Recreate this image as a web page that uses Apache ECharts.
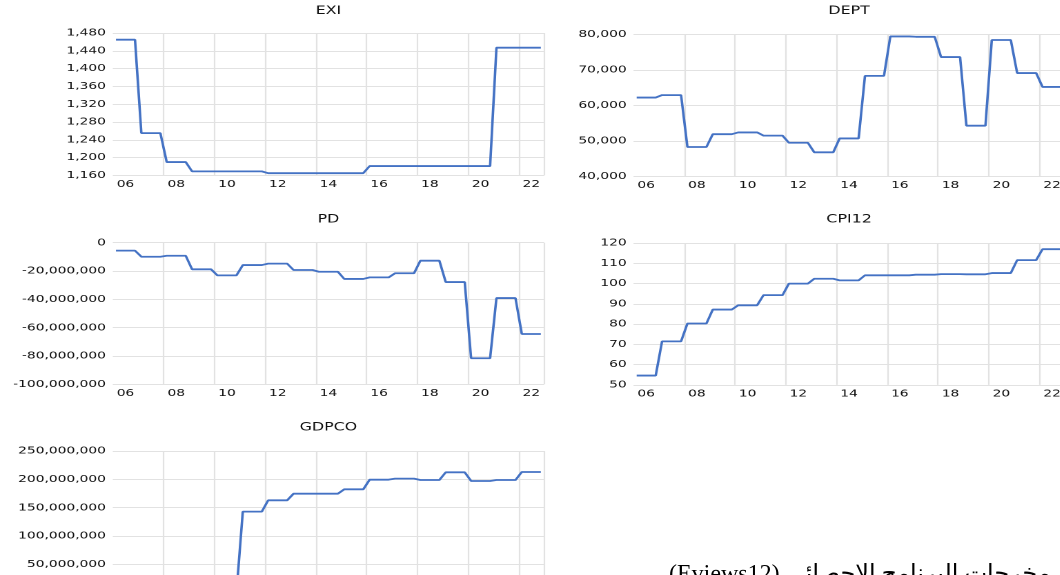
<!DOCTYPE html>
<html>
<head>
<meta charset="utf-8">
<script src="https://cdn.jsdelivr.net/npm/echarts@6/dist/echarts.min.js"></script>
<style>
html,body{margin:0;padding:0;width:1060px;height:575px;overflow:hidden;background:#ffffff;}
#chart{position:absolute;left:0;top:0;width:768.1px;height:575px;transform:scaleX(1.38);transform-origin:0 0;}
#note{position:absolute;left:0;top:0;width:1060px;height:575px;direction:rtl;pointer-events:none;}
</style>
</head>
<body>
<div id="chart"></div>
<div id="note"></div>
<script>
// ---- data (quarterly observations, 2006Q1 - 2022Q4) ----
const years = [2006,2007,2008,2009,2010,2011,2012,2013,2014,2015,2016,2017,2018,2019,2020,2021,2022];
const quarters = [];
years.forEach(function (y) { ['Q1','Q2','Q3','Q4'].forEach(function (q) { quarters.push(y + q); }); });

const titles = ['EXI', 'DEPT', 'PD', 'CPI12', 'GDPCO'];

const exi = [
  1465,1465,1465,1465, 1255,1255,1255,1255, 1190,1190,1190,1190, 1169,1169,1169,1169,
  1169,1169,1169,1169, 1169,1169,1169,1169, 1165,1165,1165,1165, 1165,1165,1165,1165,
  1165,1165,1165,1165, 1165,1165,1165,1165, 1181,1181,1181,1181, 1181,1181,1181,1181,
  1181,1181,1181,1181, 1181,1181,1181,1181, 1181,1181,1181,1181, 1447,1447,1447,1447,
  1447,1447,1447,1447
];
const dept = [
  62200,62200,62200,62200, 62900,62900,62900,62900, 48300,48300,48300,48300, 51900,51900,51900,51900,
  52400,52400,52400,52400, 51500,51500,51500,51500, 49500,49500,49500,49500, 46800,46800,46800,46800,
  50700,50700,50700,50700, 68300,68300,68300,68300, 79400,79400,79400,79400, 79300,79300,79300,79300,
  73600,73600,73600,73600, 54300,54300,54300,54300, 78400,78400,78400,78400, 69100,69100,69100,69100,
  65200,65200,65200,65200
];
const pd = [
  -5600000,-5600000,-5600000,-5600000, -9900000,-9900000,-9900000,-9900000,
  -9200000,-9200000,-9200000,-9200000, -18800000,-18800000,-18800000,-18800000,
  -23100000,-23100000,-23100000,-23100000, -15800000,-15800000,-15800000,-15800000,
  -14800000,-14800000,-14800000,-14800000, -19300000,-19300000,-19300000,-19300000,
  -20500000,-20500000,-20500000,-20500000, -25600000,-25600000,-25600000,-25600000,
  -24500000,-24500000,-24500000,-24500000, -21600000,-21600000,-21600000,-21600000,
  -12700000,-12700000,-12700000,-12700000, -27800000,-27800000,-27800000,-27800000,
  -81600000,-81600000,-81600000,-81600000, -39100000,-39100000,-39100000,-39100000,
  -64500000,-64500000,-64500000,-64500000
];
const cpi12 = [
  54.6,54.6,54.6,54.6, 71.5,71.5,71.5,71.5, 80.3,80.3,80.3,80.3, 87.2,87.2,87.2,87.2,
  89.3,89.3,89.3,89.3, 94.3,94.3,94.3,94.3, 100.0,100.0,100.0,100.0, 102.4,102.4,102.4,102.4,
  101.6,101.6,101.6,101.6, 104.1,104.1,104.1,104.1, 104.1,104.1,104.1,104.1, 104.4,104.4,104.4,104.4,
  104.7,104.7,104.7,104.7, 104.6,104.6,104.6,104.6, 105.2,105.2,105.2,105.2, 111.6,111.6,111.6,111.6,
  117.0,117.0,117.0,117.0
];
const gdpco = [
  0,0,0,0, 0,0,0,0, 0,0,0,0, 0,0,0,0,
  0,0,0,0, 143000000,143000000,143000000,143000000,
  163000000,163000000,163000000,163000000, 174700000,174700000,174700000,174700000,
  174700000,174700000,174700000,174700000, 182400000,182400000,182400000,182400000,
  199400000,199400000,199400000,199400000, 201200000,201200000,201200000,201200000,
  198800000,198800000,198800000,198800000, 212400000,212400000,212400000,212400000,
  197100000,197100000,197100000,197100000, 198800000,198800000,198800000,198800000,
  213000000,213000000,213000000,213000000
];
const seriesData = [exi, dept, pd, cpi12, gdpco];

// y-axis scales (min, max, interval)
const yMin = [1160, 40000, -100000000, 50, 0];
const yMax = [1480, 80000, 0, 120, 250000000];
const yStep = [40, 10000, 20000000, 10, 50000000];

const caption = 'المصدر: من إعداد الباحث اعتماداً على مخرجات البرنامج الإحصائي (Eviews12)';

// ---- layout (in the un-stretched coordinate space of #chart) ----
const LEFT_COL = 81.74, RIGHT_COL = 459.06, PW = 312.46;
const gridBoxes = [
  {left: LEFT_COL, top: 33.0, height: 142.4},
  {left: RIGHT_COL, top: 34.3, height: 142.2},
  {left: LEFT_COL, top: 242.7, height: 141.6},
  {left: RIGHT_COL, top: 243.1, height: 141.8},
  {left: LEFT_COL, top: 451.0, height: 141.7}
];
const titlePos = [[237.97, 11.2], [615.29, 11.2], [237.97, 219.5], [615.29, 219.5], [237.97, 427.5]];

const LINE = '#4472c4', GRIDC = '#e2e2e2', TXT = '#111111';
const FONT = '"DejaVu Sans", Verdana, sans-serif';
const qw = PW / quarters.length;

const grids = [], xAxes = [], yAxes = [], series = [], graphics = [];
for (let i = 0; i < 5; i++) {
  const g = gridBoxes[i];
  grids.push({left: g.left, top: g.top, width: PW, height: g.height, containLabel: false, outerBoundsMode: 'none'});
  xAxes.push({
    type: 'category', gridIndex: i, data: quarters, boundaryGap: true,
    axisLine: {show: false}, axisTick: {show: false},
    axisLabel: {
      interval: function (idx) { return idx % 8 === 1; },
      formatter: function (v) { return String(v).slice(2, 4); },
      color: TXT, fontFamily: FONT, fontSize: 10, margin: 4,
      padding: [0, 0, 0, qw]
    },
    splitLine: {
      show: true,
      interval: function (idx) { return idx > 0 && idx % 8 === 0 && idx < quarters.length; },
      lineStyle: {color: GRIDC, width: 1.1}
    }
  });
  yAxes.push({
    type: 'value', gridIndex: i, min: yMin[i], max: yMax[i], interval: yStep[i],
    axisLine: {show: false}, axisTick: {show: false},
    axisLabel: {
      color: TXT, fontFamily: FONT, fontSize: 10, margin: 5,
      formatter: function (v) { return Number(v).toLocaleString('en-US'); }
    },
    splitLine: {show: true, lineStyle: {color: GRIDC, width: 1}}
  });
  series.push({
    type: 'line', name: titles[i], xAxisIndex: i, yAxisIndex: i, data: seriesData[i],
    showSymbol: false, symbol: 'none', smooth: false,
    lineStyle: {color: LINE, width: 1.8}, itemStyle: {color: LINE},
    emphasis: {disabled: true}, silent: true
  });
  graphics.push({
    type: 'text', x: titlePos[i][0], y: titlePos[i][1], silent: true,
    style: {text: titles[i], fill: '#111111', font: '11.5px ' + FONT, align: 'center', verticalAlign: 'middle'}
  });
}

const chart = echarts.init(document.getElementById('chart'), null, {devicePixelRatio: 2});
chart.setOption({
  animation: false,
  backgroundColor: '#ffffff',
  grid: grids, xAxis: xAxes, yAxis: yAxes, series: series, graphic: graphics
});

const note = echarts.init(document.getElementById('note'), null, {devicePixelRatio: 2});
note.setOption({
  animation: false,
  graphic: [{
    type: 'text', x: 669, y: 574.5, silent: true,
    style: {text: caption, fill: '#000000', font: '24px "Liberation Serif", "DejaVu Serif", "DejaVu Sans", serif', align: 'left', verticalAlign: 'middle'}
  }]
});
</script>
</body>
</html>
